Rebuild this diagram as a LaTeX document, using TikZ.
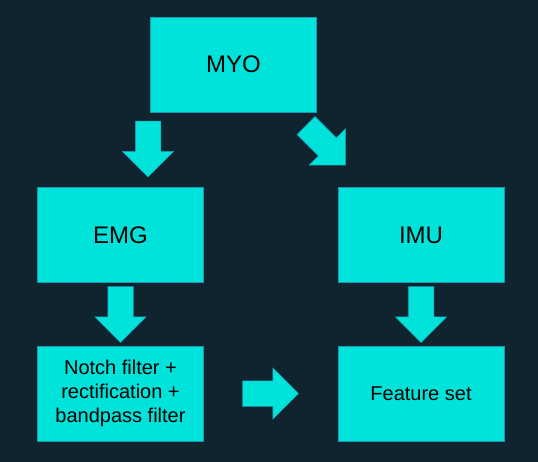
\documentclass[tikz,border=0pt]{standalone}
\usepackage{fontspec}
\setmainfont{Liberation Sans}
\usetikzlibrary{shapes.arrows}

\definecolor{navybg}{HTML}{10242F}
\definecolor{cyanfill}{HTML}{00E3DA}
\definecolor{cyanline}{HTML}{1A98B0}

\tikzset{
  box/.style={draw=cyanline,fill=cyanfill,line width=0.8pt,
    minimum width=166pt,minimum height=95pt,inner sep=0pt,align=center},
  bigtext/.style={font=\fontsize{24}{28}\selectfont},
  smalltext/.style={font=\fontsize{20}{24}\selectfont},
  blockarrow/.style={single arrow,draw=cyanline,fill=cyanfill,line width=0.5pt,
    minimum height=56pt,inner sep=12.5pt,
    single arrow head extend=13pt,outer sep=0pt}
}

\begin{document}
\begin{tikzpicture}[x=1pt,y=-1pt]
\fill [navybg] (0,0) rectangle (538,462);
\useasboundingbox (0,0) rectangle (538,462);

\node [box,bigtext]   (myo)     at (233.5, 64.5) {MYO};
\node [box,bigtext]   (emg)     at (120.5,235)   {EMG};
\node [box,bigtext]   (imu)     at (421,235)     {IMU};
\node [box,smalltext] (notch)   at (120.5,393.5) {Notch filter +\\ rectification +\\ bandpass filter};
\node [box,smalltext] (feature) at (421,393.5)   {Feature set};

% block arrows between the boxes
\node [blockarrow,shape border rotate=270,anchor=tip] (myo2emg)
    at ([xshift=27.5pt,yshift=10pt]emg.north) {};
\node [blockarrow,rotate=-45,anchor=tip] (myo2imu)
    at ([xshift=8pt,yshift=22pt]imu.north west) {};
\node [blockarrow,shape border rotate=270,anchor=tip] (emg2notch)
    at ([yshift=3pt]notch.north) {};
\node [blockarrow,shape border rotate=270,anchor=tip] (imu2feature)
    at ([yshift=3pt]feature.north) {};
\node [blockarrow,anchor=tip] (notch2feature)
    at ([xshift=-39pt]feature.west) {};
\end{tikzpicture}
\end{document}
